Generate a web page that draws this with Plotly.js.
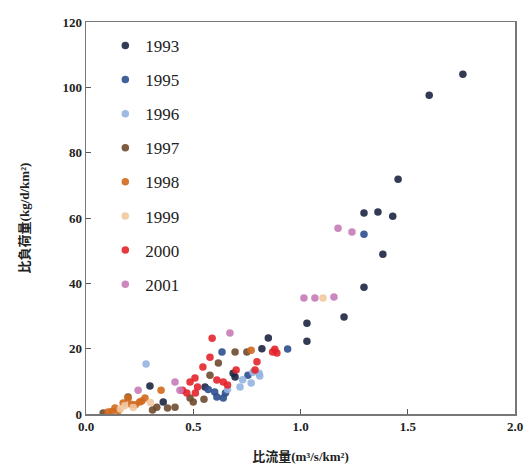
<!DOCTYPE html>
<html><head><meta charset="utf-8">
<script src="https://cdn.plot.ly/plotly-3.0.1.min.js"></script>
<style>body{margin:0;background:#fff}#c{width:528px;height:469px}</style>
</head><body><div id="c"></div>
<script>
const years = ['1993','1995','1996','1997','1998','1999','2000','2001'];
const colors = ['#1c2541','#2c4f8e','#93b4e0','#6e4a2e','#d2691e','#f2c89e','#e3242b','#c67bb7'];
const x1993 = [1.757,1.60,1.455,1.296,1.361,1.43,1.384,1.296,1.203,1.03,1.03,0.85,0.82,0.686,0.695,0.298,0.36,0.555];
const y1993 = [104,97.6,71.9,61.5,61.8,60.5,48.9,38.8,29.7,27.8,22.3,23.3,20,12.5,11.3,8.6,3.7,8.3];
const x1995 = [1.296,0.94,0.634,0.755,0.60,0.61,0.64,0.65,0.57];
const y1995 = [55,19.9,19,11.9,6.7,5.2,4.9,6.4,7.5];
const x1996 = [0.28,0.778,0.807,0.718,0.77,0.81,0.73,0.66];
const y1996 = [15.3,12.8,12.5,8.3,9.5,11.6,10.5,7.5];
const x1997 = [0.695,0.75,0.617,0.578,0.485,0.50,0.31,0.38,0.415,0.08,0.196,0.33,0.55];
const y1997 = [19,19,15.6,11.9,4.9,3.7,1.2,1.8,2.1,0.3,5.2,2.1,4.5];
const x1998 = [0.103,0.135,0.173,0.196,0.23,0.25,0.275,0.35,0.15,0.21,0.77,0.12,0.26];
const y1998 = [0.6,1.8,3.4,4.9,2.8,3.7,4.9,7.3,1.0,3.0,19.5,0.8,4.0];
const x1999 = [1.105,0.16,0.22,0.30,0.18];
const y1999 = [35.5,1.5,2.0,3.5,2.5];
const x2000 = [0.588,0.578,0.545,0.797,0.508,0.485,0.61,0.64,0.66,0.70,0.87,0.89,0.45,0.47,0.51,0.52,0.788,0.88];
const y2000 = [23.2,17.4,14.4,16,11,9.8,10.4,9.8,8.9,13.5,19,18.7,7.3,6.4,6.4,8.3,13.5,19.8];
const x2001 = [1.175,1.24,1.016,1.067,1.156,0.671,0.243,0.415,0.438];
const y2001 = [56.9,55.7,35.5,35.5,35.8,24.8,7.3,9.8,7.3];
const xs = [x1993,x1995,x1996,x1997,x1998,x1999,x2000,x2001];
const ys = [y1993,y1995,y1996,y1997,y1998,y1999,y2000,y2001];

const serif = 'Times New Roman, Liberation Serif, DejaVu Serif, serif';
const cjk = 'Times New Roman, Liberation Serif, Noto Sans CJK JP, serif';
const traces = years.map((yr,i)=>({
  type:'scatter', mode:'markers', name:yr, x:xs[i], y:ys[i],
  legendgroup:'g'+i,
  marker:{color:colors[i], size:7.5, opacity:0.9}
}));
const layout = {
  width:528, height:469,
  margin:{l:86, r:13, t:22, b:55},
  paper_bgcolor:'#fff', plot_bgcolor:'#fff',
  showlegend:true,
  legend:{x:0.045, y:0.985, xanchor:'left', yanchor:'top', bgcolor:'rgba(0,0,0,0)',
    font:{family:serif, size:17, color:'#222'}, traceorder:'grouped', tracegroupgap:9},
  xaxis:{range:[0,2], dtick:0.5, tickformat:'.1f', ticks:'inside', ticklen:5, tickcolor:'#555',
    showgrid:false, zeroline:false, showline:true, mirror:true, linecolor:'#777', linewidth:1.5,
    tickfont:{family:serif, size:13, color:'#222', weight:'bold'},
    title:{text:'<b>比流量(m³/s/km²)</b>', font:{family:cjk, size:13, color:'#222'}, standoff:19}},
  yaxis:{range:[0,120], dtick:20, ticks:'inside', ticklen:5, tickcolor:'#555',
    showgrid:false, zeroline:false, showline:true, mirror:true, linecolor:'#777', linewidth:1.5,
    tickfont:{family:serif, size:13, color:'#222', weight:'bold'},
    title:{text:'<b>比負荷量(kg/d/km²)</b>', font:{family:cjk, size:13, color:'#222'}, standoff:30}}
};
Plotly.newPlot('c', traces, layout, {displayModeBar:false, staticPlot:true});
</script></body></html>
